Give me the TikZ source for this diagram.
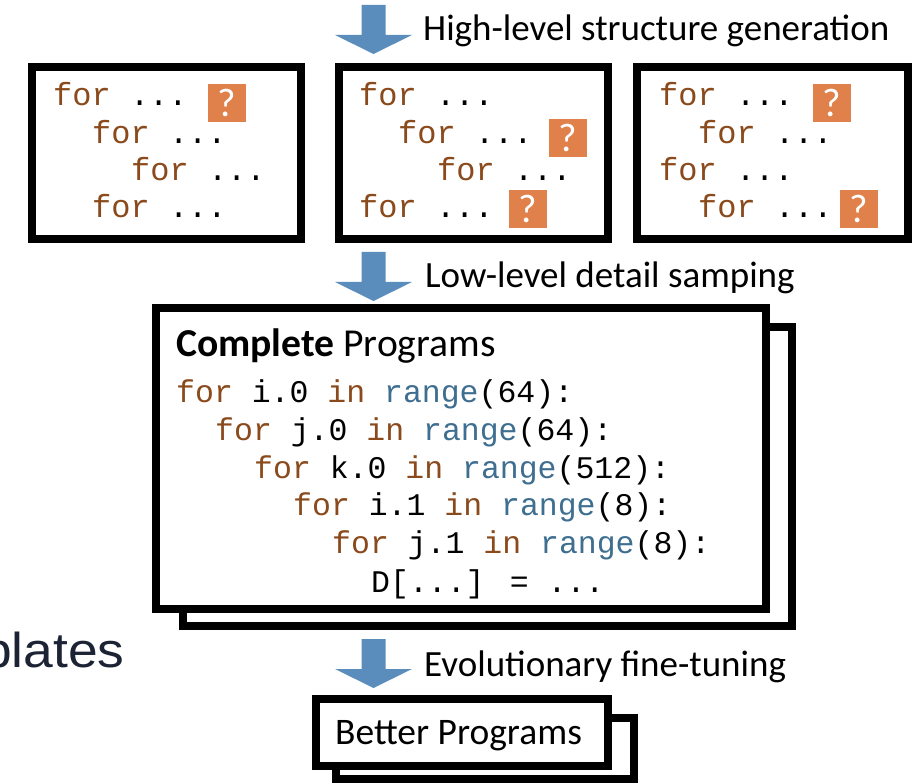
\documentclass[tikz,border=0pt]{standalone}
\usepackage{fontspec}
\setmainfont{Carlito}
\newfontfamily\codefont{Liberation Mono}
\newfontfamily\slidefont{Liberation Sans}
\definecolor{kwbrown}{HTML}{8A4A1C}
\definecolor{fnblue}{HTML}{3E6E90}
\definecolor{qorange}{HTML}{E0804A}
\definecolor{arrowblue}{HTML}{5A8DBB}
\definecolor{slideink}{HTML}{1C2334}
\newcommand{\kw}[1]{\textcolor{kwbrown}{#1}}
\newcommand{\fn}[1]{\textcolor{fnblue}{#1}}
\tikzset{
  frame/.style={draw=black, line width=8pt, fill=white},
  code/.style={anchor=base west, inner sep=0pt, text height=21pt, text depth=5pt,
    font=\codefont\fontsize{32}{36}\selectfont},
  bodycode/.style={code, font=\codefont\fontsize{31.5}{36}\selectfont},
  caption/.style={anchor=base west, inner sep=0pt, font=\fontsize{37}{42}\selectfont},
  qbox/.style={anchor=north west, fill=qorange, text=white, minimum size=38pt,
    inner sep=0pt, font=\fontsize{40}{44}\selectfont},
  bigarrow/.pic={\fill[arrowblue] (-12,0) -- (12,0) -- (12,30) -- (38.5,30)
    -- (0,49) -- (-38.5,30) -- (-12,30) -- cycle;}
}
\begin{document}
\begin{tikzpicture}[x=1pt, y=-1pt]
\useasboundingbox (0,0) rectangle (920,783);

% stage 1: structure generation
\pic at (373.5,5) {bigarrow};
\node[caption] (capA) at (423,41) {High-level structure generation};

\draw[frame] (32,67) rectangle (301,239);
\node[code] (a1) at (53,106) {\kw{for} ...};
\node[code] (a2) at (92,144) {\kw{for} ...};
\node[code] (a3) at (131,181) {\kw{for} ...};
\node[code] (a4) at (92,218) {\kw{for} ...};
\node[qbox] (qa1) at (208,84) {?};

\draw[frame] (339,67) rectangle (608,239);
\node[code] (b1) at (359,106) {\kw{for} ...};
\node[code] (b2) at (398,144) {\kw{for} ...};
\node[code] (b3) at (437,181) {\kw{for} ...};
\node[code] (b4) at (359,218) {\kw{for} ...};
\node[qbox] (qb2) at (549,119) {?};
\node[qbox] (qb4) at (509,190) {?};

\draw[frame] (637,67) rectangle (908,239);
\node[code] (c1) at (659,106) {\kw{for} ...};
\node[code] (c2) at (698,144) {\kw{for} ...};
\node[code] (c3) at (659,181) {\kw{for} ...};
\node[code] (c4) at (698,218) {\kw{for} ...};
\node[qbox] (qc1) at (813,84) {?};
\node[qbox] (qc4) at (840,190) {?};

% stage 2: detail sampling
\pic at (373.5,252) {bigarrow};
\node[caption] (capB) at (425,288) {Low-level detail samping};

\draw[frame] (183,327) rectangle (792,626);
\draw[frame] (156,308) rectangle (766,609);
\node[caption, font=\fontsize{39.6}{44}\selectfont] (title) at (176,356) {\textbf{Complete} Programs};
\node[bodycode] (m1) at (176,402) {\kw{for} i.0 \kw{in} \fn{range}(64):};
\node[bodycode] (m2) at (215,440) {\kw{for} j.0 \kw{in} \fn{range}(64):};
\node[bodycode] (m3) at (254,478) {\kw{for} k.0 \kw{in} \fn{range}(512):};
\node[bodycode] (m4) at (293,515) {\kw{for} i.1 \kw{in} \fn{range}(8):};
\node[bodycode] (m5) at (332,553) {\kw{for} j.1 \kw{in} \fn{range}(8):};
\node[bodycode] (m6) at (371,592) {D[...] = ...};

% left-over slide text
\node[anchor=base west, inner sep=0pt, text=slideink,
  font=\slidefont\fontsize{49}{54}\selectfont] (side) at (-18,667) {\scalebox{1.09}[1]{plates}};

% stage 3: fine-tuning
\pic at (373.5,639) {bigarrow};
\node[caption] (capC) at (424,676) {Evolutionary fine-tuning};

\draw[frame] (336,718) rectangle (634,779);
\draw[frame] (316,699) rectangle (608,766);
\node[caption, font=\fontsize{37.5}{42}\selectfont] (better) at (335,744) {Better Programs};
\end{tikzpicture}
\end{document}
